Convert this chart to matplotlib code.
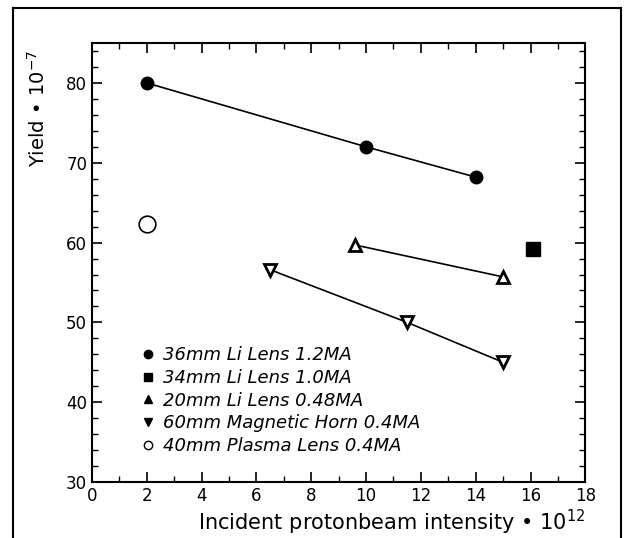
import matplotlib
matplotlib.use("Agg")
import matplotlib.pyplot as plt
from matplotlib.lines import Line2D
from matplotlib.ticker import MultipleLocator

# Data
li36_x = [2, 10, 14]
li36_y = [80, 72, 68.2]
li34_x = [16.1]
li34_y = [59.2]
li20_x = [9.6, 15]
li20_y = [59.7, 55.7]
horn60_x = [6.5, 11.5, 15]
horn60_y = [56.6, 50.0, 45.0]
plasma40_x = [2]
plasma40_y = [62.3]
labels = ["36mm Li Lens 1.2MA", "34mm Li Lens 1.0MA", "20mm Li Lens 0.48MA",
          "60mm Magnetic Horn 0.4MA", "40mm Plasma Lens 0.4MA"]
xticks = [0, 2, 4, 6, 8, 10, 12, 14, 16, 18]
yticks = [30, 40, 50, 60, 70, 80]

fig = plt.figure(figsize=(6.26, 5.38), dpi=100)
ax = fig.add_axes([0.147, 0.104, 0.788, 0.816])

ax.plot(li36_x, li36_y, color="black", lw=1.2, marker="o", ms=9, mfc="black", mec="black")
ax.plot(li34_x, li34_y, ls="none", marker="s", ms=10, mfc="black", mec="black")
ax.plot(li20_x, li20_y, color="black", lw=1.2, marker="^", ms=9, mfc="white", mec="black", mew=2)
ax.plot(horn60_x, horn60_y, color="black", lw=1.2, marker="v", ms=9, mfc="white", mec="black", mew=2)
ax.plot(plasma40_x, plasma40_y, ls="none", marker="o", ms=12, mfc="white", mec="black", mew=1.2)

ax.set_xlim(0, 18)
ax.set_ylim(30, 85)
ax.set_xticks(xticks)
ax.set_yticks(yticks)
ax.xaxis.set_minor_locator(MultipleLocator(1))
ax.yaxis.set_minor_locator(MultipleLocator(2))
ax.tick_params(which="both", direction="in", top=True, right=True, labelsize=12)
ax.tick_params(which="major", length=7, width=1.2)
ax.tick_params(which="minor", length=4, width=1.0)
for s in ax.spines.values():
    s.set_linewidth(1.5)

handles = [
    Line2D([], [], ls="none", marker="o", ms=6, color="black"),
    Line2D([], [], ls="none", marker="s", ms=6, color="black"),
    Line2D([], [], ls="none", marker="^", ms=6, color="black"),
    Line2D([], [], ls="none", marker="v", ms=6, color="black"),
    Line2D([], [], ls="none", marker="o", ms=6, mfc="white", mec="black"),
]
leg = ax.legend(handles, labels, loc="upper left", bbox_to_anchor=(0.085, 0.33),
                frameon=False, prop={"style": "italic", "size": 13},
                handlelength=0.6, handletextpad=0.5, labelspacing=0.26,
                borderpad=0.0)

fig.text(0.935, 0.015, "Incident protonbeam intensity \u2022 10$^{12}$", ha="right", va="baseline", fontsize=15)
fig.text(0.06, 0.907, "Yield \u2022 10$^{-7}$", rotation=90, ha="center", va="top", fontsize=14)

# outer frame of the scanned figure
fig.add_artist(Line2D([0.021, 0.992], [0.985, 0.985], color="black", lw=1.5, transform=fig.transFigure))
fig.add_artist(Line2D([0.021, 0.021], [0.0, 0.985], color="black", lw=1.5, transform=fig.transFigure))
fig.add_artist(Line2D([0.992, 0.992], [0.0, 0.985], color="black", lw=1.5, transform=fig.transFigure))

fig.savefig("out.png", dpi=100)
